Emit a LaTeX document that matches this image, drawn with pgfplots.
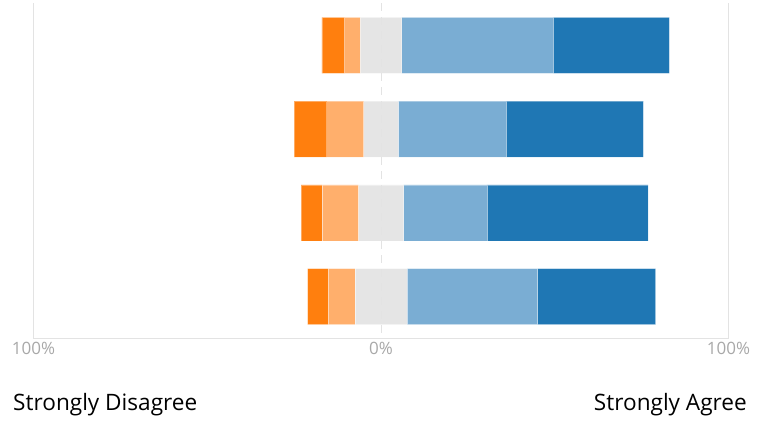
\documentclass[border=0pt]{standalone}
\usepackage{pgfplots}
\pgfplotsset{compat=1.18}
\usepackage{pgfplotstable}
\usepackage{fontspec}
\setmainfont{Open Sans}
\definecolor{sdc}{HTML}{FF7F0E}
\definecolor{ddc}{HTML}{FFAF6C}
\definecolor{nnc}{HTML}{E5E5E5}
\definecolor{aac}{HTML}{7AADD3}
\definecolor{sac}{HTML}{1F77B4}
\definecolor{gridc}{HTML}{E3E3E3}
\definecolor{tickc}{HTML}{A8A8A8}
% off = 100 - (SD + D + N/2): shift so that the neutral segment is centred on 0%
\pgfplotstableread{
row off SD D N A SA
1 83.0 6.5 4.5 12 43.5 33.5
2 75.0 9.4 10.6 10 31.0 39.5
3 77.0 6.0 10.5 13 24.0 46.4
4 78.9 5.9 7.7 15 37.5 34.0
}\likert
\begin{document}
\begin{tikzpicture}
\path[use as bounding box] (0,0) rectangle (769pt,423pt);
\begin{axis}[
  at={(33.5pt,84.4pt)}, anchor=south west,
  scale only axis, width=695pt, height=335.2pt,
  xbar stacked, bar width=56pt,
  xmin=0, xmax=200, ymin=0.5, ymax=4.5, y dir=reverse,
  axis x line*=bottom, axis y line=none,
  axis line style={gridc, line width=1pt},
  xtick={0,200}, xticklabels={100\%,100\%},
  extra x ticks={100}, extra x tick labels={0\%},
  extra x tick style={grid style={gridc, line width=1pt, dash pattern=on 8pt off 6pt}},
  xmajorgrids, grid style={gridc, line width=1pt},
  major tick length=0pt,
  ytick=\empty,
  tick label style={font=\fontsize{17}{17}\selectfont, text=tickc},
  xticklabel style={anchor=north, inner sep=0pt, yshift=-3pt},
  axis on top,
  every axis plot/.append style={draw=white, draw opacity=0.35, line width=0.8pt},
]
\addplot[draw=none, fill=none] table[x=off, y=row]{\likert};
\addplot[fill=sdc] table[x=SD, y=row]{\likert};
\addplot[fill=ddc] table[x=D, y=row]{\likert};
\addplot[fill=nnc] table[x=N, y=row]{\likert};
\addplot[fill=aac] table[x=A, y=row]{\likert};
\addplot[fill=sac] table[x=SA, y=row]{\likert};
\end{axis}
\node[anchor=base west, inner sep=0pt, font=\fontsize{22.6}{22.6}\selectfont] at (13pt,12pt) {Strongly Disagree};
\node[anchor=base east, inner sep=0pt, font=\fontsize{22.6}{22.6}\selectfont] at (747pt,12pt) {Strongly Agree};
\end{tikzpicture}
\end{document}
